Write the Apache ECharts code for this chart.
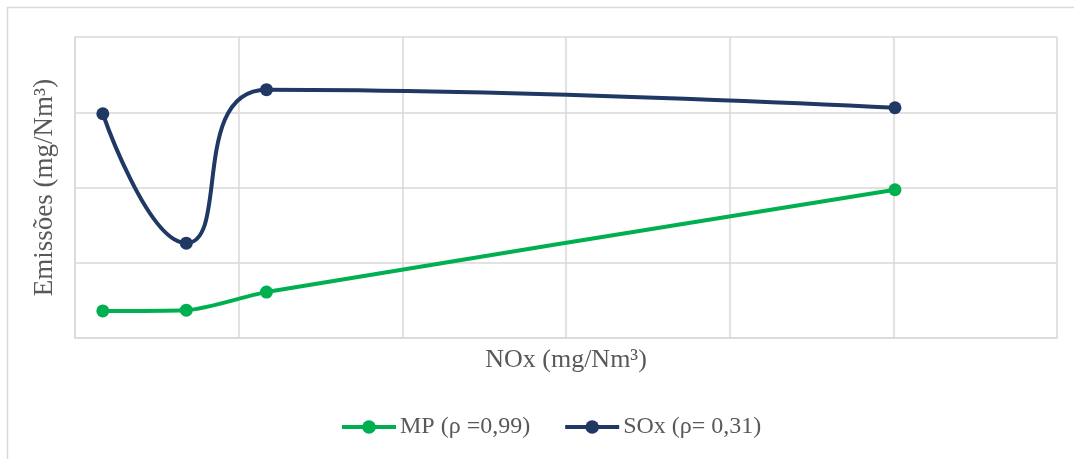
<!DOCTYPE html>
<html><head><meta charset="utf-8">
<script src="https://cdn.jsdelivr.net/npm/echarts@6/dist/echarts.min.js"></script>
<style>html,body{margin:0;padding:0;background:#fff}#c{width:1074px;height:459px}</style>
</head><body><div id="c"></div>
<script>
const nox = [17, 68, 117, 501];
const mp = [36, 37, 61, 197];
const sox = [298, 126, 330, 306];
const seriesNames = ['MP (ρ =0,99)', 'SOx (ρ= 0,31)'];
const xTitle = 'NOx (mg/Nm³)';
const yTitle = 'Emissões (mg/Nm³)';

const chart = echarts.init(document.getElementById('c'));
const font = 'Liberation Serif';
chart.setOption({
  animation: false,
  backgroundColor: '#fff',
  graphic: [{type:'rect', shape:{x:7.5,y:7.5,width:1080,height:470}, style:{fill:'none',stroke:'#d9d9d9',lineWidth:1.5}, silent:true}],
  grid: {left: 75, right: 17, top: 37, bottom: 121},
  xAxis: {
    type: 'value', min: 0, max: 600, interval: 100,
    name: xTitle, nameLocation: 'middle', nameGap: 9,
    nameTextStyle: {fontFamily: font, fontSize: 26, color: '#595959', verticalAlign: 'top'},
    axisLabel: {show: false}, axisTick: {show: false},
    axisLine: {show: true, lineStyle: {color: '#d9d9d9', width: 1.5}},
    splitLine: {show: true, lineStyle: {color: '#d9d9d9', width: 1.5}}
  },
  yAxis: {
    type: 'value', min: 0, max: 400, interval: 100,
    name: yTitle, nameLocation: 'middle', nameGap: 17, nameRotate: 90,
    nameTextStyle: {fontFamily: font, fontSize: 27, color: '#595959'},
    axisLabel: {show: false}, axisTick: {show: false},
    axisLine: {show: true, lineStyle: {color: '#d9d9d9', width: 1.5}},
    splitLine: {show: true, lineStyle: {color: '#d9d9d9', width: 1.5}}
  },
  legend: {
    top: 410, left: 335, itemGap: 33, itemWidth: 54, itemHeight: 17,
    lineStyle: {width: 4},
    textStyle: {fontFamily: font, fontSize: 24, color: '#595959', padding: [0,0,0,-1]},
    data: seriesNames
  },
  series: [
    {name: seriesNames[0], type: 'line', smooth: 0.25, symbol: 'circle', symbolSize: 13,
     color: '#00B050', lineStyle: {width: 4}, data: nox.map((x,i)=>[x, mp[i]])},
    {name: seriesNames[1], type: 'line', smooth: 0.5, symbol: 'circle', symbolSize: 13,
     color: '#1F3864', lineStyle: {width: 4}, data: nox.map((x,i)=>[x, sox[i]])}
  ]
});
</script></body></html>
